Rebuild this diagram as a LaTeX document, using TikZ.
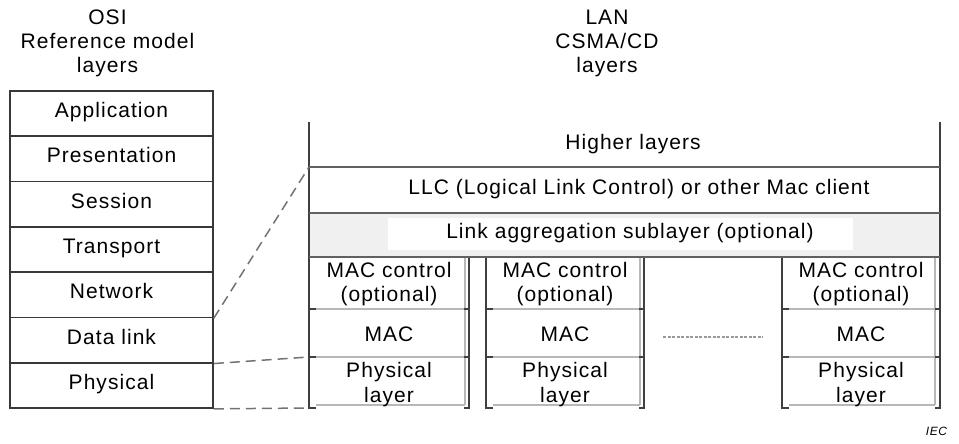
\documentclass[tikz,border=0pt]{standalone}
\usepackage{fontspec}
\setmainfont{Liberation Sans}[LetterSpace=5]
\begin{document}
\begin{tikzpicture}[x=1pt,y=-1pt,
  every node/.style={font=\fontsize{21}{24}\selectfont,inner sep=0pt},
  frame/.style={draw=black!75,line width=1.7pt},
  rule/.style={draw=black!62,line width=1.6pt},
  innerline/.style={draw=black!28,line width=1.8pt},
  link/.style={draw=black!55,line width=1.5pt,dash pattern=on 10pt off 6pt},
  osirow/.style={draw=black!78,line width=1.6pt,minimum width=203pt,
    minimum height=45.3pt,text height=14pt,text depth=6pt},
  txt/.style={anchor=base}
]
\useasboundingbox (0,0) rectangle (959,444);

% column headings
\node[txt] (osititle) at (107.5,25)
  {\begin{tabular}[t]{@{}c@{}}OSI\\Reference model\\layers\end{tabular}};
\node[txt] (lantitle) at (607,25)
  {\begin{tabular}[t]{@{}c@{}}LAN\\CSMA/CD\\layers\end{tabular}};

% OSI reference model stack
\node[osirow] (app)   at (111.5,113.6) {Application};
\node[osirow] (pres)  at (111.5,158.9) {Presentation};
\node[osirow] (sess)  at (111.5,204.2) {Session};
\node[osirow] (trans) at (111.5,249.5) {Transport};
\node[osirow] (net)   at (111.5,294.8) {Network};
\node[osirow] (dl)    at (111.5,340.1) {Data link};
\node[osirow] (phy)   at (111.5,385.4) {Physical};

% LAN frame corners and layer boundaries
\coordinate (ftl) at (309,122);
\coordinate (ftr) at (940,122);
\coordinate (llcl) at (309,167);
\coordinate (llcr) at (940,167);
\coordinate (aggl) at (309,213);
\coordinate (aggr) at (940,213);
\coordinate (macl) at (309,257);
\coordinate (macr) at (940,257);
\coordinate (phyl) at (309,357);
\coordinate (fbl) at (309,408);
\coordinate (fbr) at (940,408);

% shaded link aggregation band
\fill[black!6] (aggl) rectangle (macr);
\fill[white] (388,218) rectangle (853,250);

% per-port sublayer columns: left bracket / right bracket / inner edge
\foreach \L/\R/\E in {309/469/465, 486/644/640, 782/940/935}{
  \draw[innerline] (\L+7,309) -- (\E,309) (\L+7,357) -- (\E,357)
                   (\L+7,405) -- (\E,405) (\E,257) -- (\E,405);
  \draw[frame] (\L,257) -- (\L,408) -- (\L+7,408)
               (\L,309) -- (\L+7,309) (\L,357) -- (\L+7,357);
  \draw[frame] (\R,257) -- (\R,408) -- (\R-5,408)
               (\R,309) -- (\R-5,309) (\R,357) -- (\R-5,357);
}

% outer frame and horizontal boundaries
\draw[frame] (ftl) -- (fbl);
\draw[frame] (ftr) -- (fbr);
\draw[rule] (llcl) -- (llcr);
\draw[rule] (aggl) -- (aggr);
\draw[rule] (macl) -- (macr);

% repeated ports
\draw[black!40,line width=1.5pt,dash pattern=on 3pt off 1.5pt] (663,337) -- (763,337);

% layer names
\node[txt] (higher) at (633,149) {Higher layers};
\node[txt] (llc) at (639,194) {LLC (Logical Link Control) or other Mac client};
\node[txt] (agg) at (630,238) {Link aggregation sublayer (optional)};
\foreach \x/\n in {389/a, 565/b, 861/c}{
  \node[txt] (ctl\n) at (\x,277)
    {\begin{tabular}[t]{@{}c@{}}MAC control\\(optional)\end{tabular}};
  \node[txt] (mac\n) at (\x,341) {MAC};
  \node[txt] (phys\n) at (\x,377)
    {\begin{tabular}[t]{@{}c@{}}Physical\\[1pt]layer\end{tabular}};
}

% correspondence between OSI layers and LAN layers
\draw[link] (net.south east) -- (llcl);
\draw[link] (dl.south east) -- (phyl);
\draw[link] (phy.south east) -- (fbl);

\node[anchor=base,font=\fontsize{12}{14}\selectfont\itshape] (iec) at (936.5,435) {IEC};
\end{tikzpicture}
\end{document}
